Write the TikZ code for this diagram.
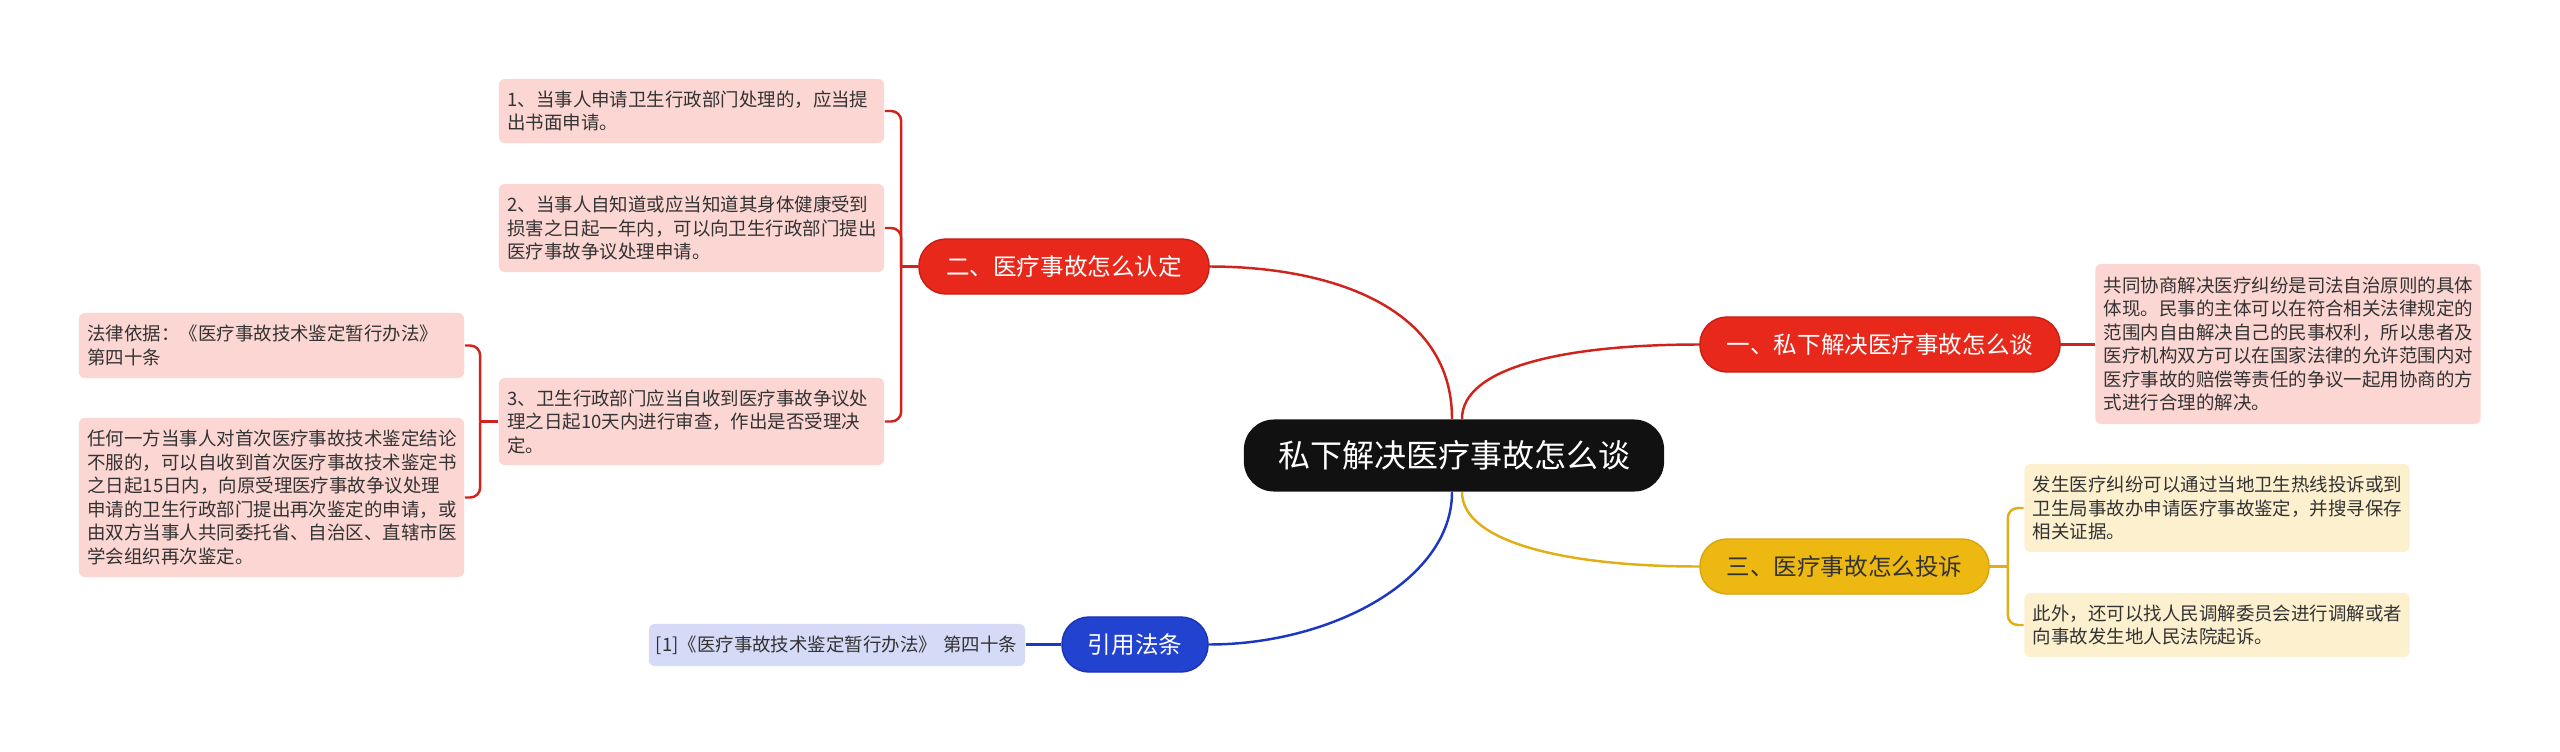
\documentclass[tikz,border=0pt]{standalone}
\usepackage{fontspec}
\setmainfont{Noto Sans CJK SC}
\usetikzlibrary{calc,backgrounds}
\definecolor{redfill}{HTML}{E8281A}
\definecolor{redborder}{HTML}{C81E14}
\definecolor{redline}{HTML}{D0231C}
\definecolor{pinkfill}{HTML}{FCD6D3}
\definecolor{yelfill}{HTML}{EDB811}
\definecolor{yelborder}{HTML}{D9A50C}
\definecolor{yelline}{HTML}{E2AE15}
\definecolor{yelleaf}{HTML}{FCF0CF}
\definecolor{bluefill}{HTML}{2242D0}
\definecolor{blueborder}{HTML}{1A33B0}
\definecolor{blueline}{HTML}{1C38C2}
\definecolor{blueleaf}{HTML}{D5DAF7}
\definecolor{textgray}{HTML}{333333}
\definecolor{rootfill}{HTML}{111111}
\newcommand\leaffont{\fontsize{5.25pt}{6.69pt}\selectfont}
\newcommand\branchfont{\fontsize{6.7pt}{8pt}\selectfont}
\newcommand\rootfont{\fontsize{9.1pt}{11pt}\selectfont}
\begin{document}
\begin{tikzpicture}[x=0.01cm,y=-0.01cm,
  leafbox/.style={rectangle, rounded corners=0.06cm, align=left, text width=3.68cm,
    inner xsep=0.085cm, inner ysep=0pt, font=\leaffont, text=textgray},
  pinkleaf/.style={leafbox, fill=pinkfill},
  yelleafbox/.style={leafbox, fill=yelleaf},
  blueleafbox/.style={leafbox, fill=blueleaf, text width=3.62cm, inner xsep=0.07cm},
  branchbox/.style={rectangle, rounded corners=0.27cm, minimum height=0.55cm,
    inner sep=0pt, font=\branchfont, line width=0.4pt},
  redbranch/.style={branchbox, fill=redfill, draw=redborder, text=white},
  yelbranch/.style={branchbox, fill=yelfill, draw=yelborder, text=textgray},
  bluebranch/.style={branchbox, fill=bluefill, draw=blueborder, text=white},
  rootbox/.style={rectangle, rounded corners=0.3cm, fill=rootfill, text=white,
    minimum width=4.2cm, minimum height=0.72cm, inner sep=0pt, font=\rootfont},
  conn/.style={line width=0.7pt},
  bracket/.style={conn, rounded corners=0.1cm}
]
\useasboundingbox (0,0) rectangle (2560,751);

% root
\node[rootbox] (root) at (1454,455.5) {私下解决医疗事故怎么谈};

% branches
\node[redbranch, minimum width=3.6cm] (b1) at (1880,344.5) {一、私下解决医疗事故怎么谈};
\node[redbranch, minimum width=2.9cm] (b2) at (1064,266.5) {二、医疗事故怎么认定};
\node[yelbranch, minimum width=2.89cm] (b3) at (1844.5,566.5) {三、医疗事故怎么投诉};
\node[bluebranch, minimum width=1.46cm] (bq) at (1135,644.5) {引用法条};

% leaves of branch 1
\node[pinkleaf, minimum height=1.6cm] (r1) at (2288,344) {共同协商解决医疗纠纷是司法自治原则的具体\\体现。民事的主体可以在符合相关法律规定的\\范围内自由解决自己的民事权利，所以患者及\\医疗机构双方可以在国家法律的允许范围内对\\医疗事故的赔偿等责任的争议一起用协商的方\\式进行合理的解决。};

% leaves of branch 2
\node[pinkleaf, minimum height=0.64cm] (l1) at (691.5,111) {1、当事人申请卫生行政部门处理的，应当提\\出书面申请。};
\node[pinkleaf, minimum height=0.88cm] (l2) at (691.5,228) {2、当事人自知道或应当知道其身体健康受到\\损害之日起一年内，可以向卫生行政部门提出\\医疗事故争议处理申请。};
\node[pinkleaf, minimum height=0.87cm] (l3) at (691.5,421.5) {3、卫生行政部门应当自收到医疗事故争议处\\理之日起10天内进行审查，作出是否受理决\\定。};
\node[pinkleaf, minimum height=0.65cm] (sa) at (271.5,345.5) {法律依据：《医疗事故技术鉴定暂行办法》\\第四十条};
\node[pinkleaf, minimum height=1.59cm] (sb) at (271.5,497.5) {任何一方当事人对首次医疗事故技术鉴定结论\\不服的，可以自收到首次医疗事故技术鉴定书\\之日起15日内，向原受理医疗事故争议处理\\申请的卫生行政部门提出再次鉴定的申请，或\\由双方当事人共同委托省、自治区、直辖市医\\学会组织再次鉴定。};

% leaves of branch 3
\node[yelleafbox, minimum height=0.88cm] (ya) at (2217,508) {发生医疗纠纷可以通过当地卫生热线投诉或到\\卫生局事故办申请医疗事故鉴定，并搜寻保存\\相关证据。};
\node[yelleafbox, minimum height=0.64cm] (yb) at (2217,625) {此外，还可以找人民调解委员会进行调解或者\\向事故发生地人民法院起诉。};

% leaf of citation branch
\node[blueleafbox, minimum height=0.42cm] (ql) at (837,645) {\mbox{[1]《医疗事故技术鉴定暂行办法》~第四十条}};

\begin{scope}[on background layer]
  \fill[white] (0,0) rectangle (2560,751);
  % root connectors
  \draw[conn, redline] ($(root.north)+(-2,0)$) .. controls +(0,-115) and +(115,0) .. (b2.east);
  \draw[conn, redline] ($(root.north)+(8,0)$) .. controls +(0,-50) and +(-140,0) .. (b1.west);
  \draw[conn, blueline] ($(root.south)+(-2,0)$) .. controls +(0,88) and +(122,0) .. (bq.east);
  \draw[conn, yelline] ($(root.south)+(8,0)$) .. controls +(0,48) and +(-140,0) .. (b3.west);
  % branch 1
  \draw[conn, redline] (b1.east) -- (r1.west |- b1.east);
  % branch 2 bracket
  \draw[conn, redline] (b2.west) -- ++(-17,0) coordinate (s2);
  \draw[bracket, redline] (s2) |- (l1.east);
  \draw[bracket, redline] (s2) |- (l2.east);
  \draw[bracket, redline] (s2) |- (l3.east);
  % sub bracket of leaf 3
  \draw[conn, redline] (l3.west) -- ++(-18,0) coordinate (s3);
  \draw[bracket, redline] (s3) |- (sa.east);
  \draw[bracket, redline] (s3) |- (sb.east);
  % branch 3 bracket
  \draw[conn, yelline] (b3.east) -- ++(18,0) coordinate (s4);
  \draw[bracket, yelline] (s4) |- (ya.west);
  \draw[bracket, yelline] (s4) |- (yb.west);
  % citation
  \draw[conn, blueline] (bq.west) -- (ql.east |- bq.west);
\end{scope}
\end{tikzpicture}
\end{document}
